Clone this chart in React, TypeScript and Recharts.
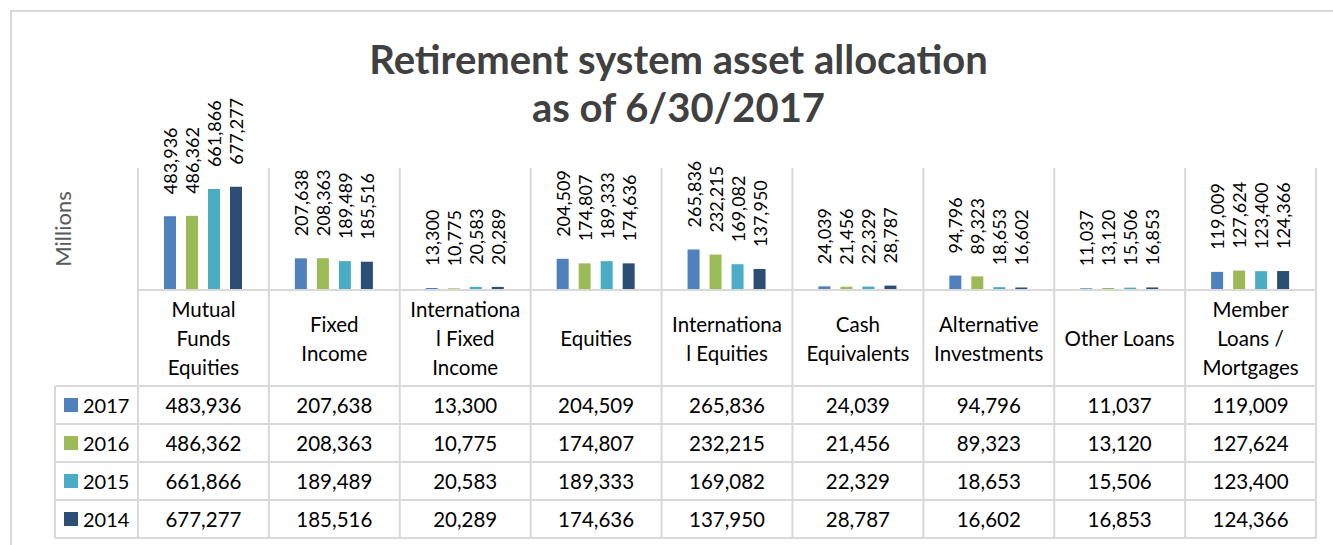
import { BarChart, Bar, XAxis, YAxis, LabelList } from "recharts";

const years = ["2017", "2016", "2015", "2014"];
const colors = ["#4F81BD", "#9BBB59", "#4BACC6", "#2C4D75"];

const categories = [
  "Mutual Funds Equities",
  "Fixed Income",
  "International Fixed Income",
  "Equities",
  "International Equities",
  "Cash Equivalents",
  "Alternative Investments",
  "Other Loans",
  "Member Loans / Mortgages",
];

// wrapped the way the original data table wraps them
const categoryLines = [
  ["Mutual", "Funds", "Equities"],
  ["Fixed", "Income"],
  ["Internationa", "l Fixed", "Income"],
  ["Equities"],
  ["Internationa", "l Equities"],
  ["Cash", "Equivalents"],
  ["Alternative", "Investments"],
  ["Other Loans"],
  ["Member", "Loans /", "Mortgages"],
];

const values2017 = [483936, 207638, 13300, 204509, 265836, 24039, 94796, 11037, 119009];
const values2016 = [486362, 208363, 10775, 174807, 232215, 21456, 89323, 13120, 127624];
const values2015 = [661866, 189489, 20583, 189333, 169082, 22329, 18653, 15506, 123400];
const values2014 = [677277, 185516, 20289, 174636, 137950, 28787, 16602, 16853, 124366];

const seriesValues = [values2017, values2016, values2015, values2014];

const data = categories.map((name, i) => ({
  name,
  "2017": values2017[i],
  "2016": values2016[i],
  "2015": values2015[i],
  "2014": values2014[i],
}));

const W = 1333;
const H = 545;
const PLOT_LEFT = 138;
const PLOT_RIGHT = 1316;
const PLOT_TOP = 168;
const PLOT_BOTTOM = 290;
const HEADER_BOTTOM = 386;
const ROW_H = 38;
const TABLE_BOTTOM = HEADER_BOTTOM + ROW_H * 4;
const LEGEND_LEFT = 55;
const BAND = (PLOT_RIGHT - PLOT_LEFT) / categories.length;

const FONT = "Lato, 'Open Sans', sans-serif";
const GRID = "#D9D9D9";

const fmt = (v: number) => v.toLocaleString("en-US");

function TableTick(props: any) {
  const { x, payload } = props;
  const i = payload.index;
  const lines = categoryLines[i];
  const midY = (PLOT_BOTTOM + HEADER_BOTTOM) / 2;
  const startY = midY - ((lines.length - 1) * 29) / 2;
  return (
    <g fontFamily={FONT}>
      {i === 0 && (
        <g>
          <line x1={x - BAND / 2} x2={x - BAND / 2} y1={PLOT_TOP} y2={TABLE_BOTTOM} stroke={GRID} strokeWidth={2} />
          <line x1={LEGEND_LEFT} x2={LEGEND_LEFT} y1={HEADER_BOTTOM} y2={TABLE_BOTTOM} stroke={GRID} strokeWidth={2} />
          {[0, 1, 2, 3, 4].map((r) => (
            <line
              key={r}
              x1={LEGEND_LEFT}
              x2={PLOT_RIGHT}
              y1={HEADER_BOTTOM + r * ROW_H}
              y2={HEADER_BOTTOM + r * ROW_H}
              stroke={GRID}
              strokeWidth={2}
            />
          ))}
          {years.map((yr, r) => (
            <g key={yr}>
              <rect x={64} y={HEADER_BOTTOM + r * ROW_H + ROW_H / 2 - 7} width={14} height={14} fill={colors[r]} />
              <text x={83} y={HEADER_BOTTOM + r * ROW_H + ROW_H / 2} dominantBaseline="central" fontSize={20} fill="#000">
                {yr}
              </text>
            </g>
          ))}
        </g>
      )}
      <line x1={x + BAND / 2} x2={x + BAND / 2} y1={PLOT_TOP} y2={TABLE_BOTTOM} stroke={GRID} strokeWidth={2} />
      {lines.map((ln, k) => (
        <text key={k} x={x} y={startY + k * 29} textAnchor="middle" dominantBaseline="central" fontSize={20.5} fill="#000">
          {ln}
        </text>
      ))}
      {seriesValues.map((vals, r) => (
        <text
          key={r}
          x={x}
          y={HEADER_BOTTOM + r * ROW_H + ROW_H / 2}
          textAnchor="middle"
          dominantBaseline="central"
          fontSize={20.5}
          fill="#000"
        >
          {fmt(vals[i])}
        </text>
      ))}
    </g>
  );
}

function RotatedLabel(props: any) {
  const { x, y, width, value } = props;
  const cx = x + width / 2;
  const ty = y - 22;
  return (
    <text
      x={cx}
      y={ty}
      transform={`rotate(-90, ${cx}, ${ty})`}
      textAnchor="start"
      dominantBaseline="central"
      fontFamily={FONT}
      fontSize={18}
      fill="#000"
    >
      {fmt(value)}
    </text>
  );
}

export default function App() {
  return (
    <div style={{ position: "absolute", left: 0, top: 0, width: W, height: H, background: "#fff", overflow: "hidden" }}>
      <div
        style={{
          position: "absolute",
          left: 10,
          top: 10,
          width: W + 20,
          height: H + 20,
          border: `2px solid ${GRID}`,
          boxSizing: "border-box",
        }}
      />
      <div
        style={{
          position: "absolute",
          left: 12,
          width: W,
          top: 35,
          textAlign: "center",
          fontFamily: FONT,
          fontWeight: 700,
          fontSize: 40,
          lineHeight: "48px",
          color: "#404040",
        }}
      >
        Retirement system asset allocation
        <br />
        as of 6/30/2017
      </div>
      <div
        style={{
          position: "absolute",
          left: 62,
          top: 229,
          transform: "translate(-50%, -50%) rotate(-90deg)",
          fontFamily: FONT,
          fontSize: 22,
          color: "#595959",
          whiteSpace: "nowrap",
        }}
      >
        Millions
      </div>
      <div style={{ position: "absolute", left: 0, top: 0 }}>
        <BarChart
          width={W}
          height={H}
          data={data}
          margin={{ top: PLOT_TOP, right: W - PLOT_RIGHT, left: PLOT_LEFT, bottom: H - TABLE_BOTTOM }}
          barCategoryGap={26}
          barGap={10}
        >
          <XAxis
            dataKey="name"
            height={TABLE_BOTTOM - PLOT_BOTTOM}
            tickLine={false}
            axisLine={{ stroke: GRID, strokeWidth: 2 }}
            tick={<TableTick />}
            interval={0}
          />
          <YAxis hide domain={[0, 800000]} />
          {years.map((yr, r) => (
            <Bar key={yr} dataKey={yr} fill={colors[r]} isAnimationActive={false}>
              <LabelList dataKey={yr} content={<RotatedLabel />} />
            </Bar>
          ))}
        </BarChart>
      </div>
    </div>
  );
}
